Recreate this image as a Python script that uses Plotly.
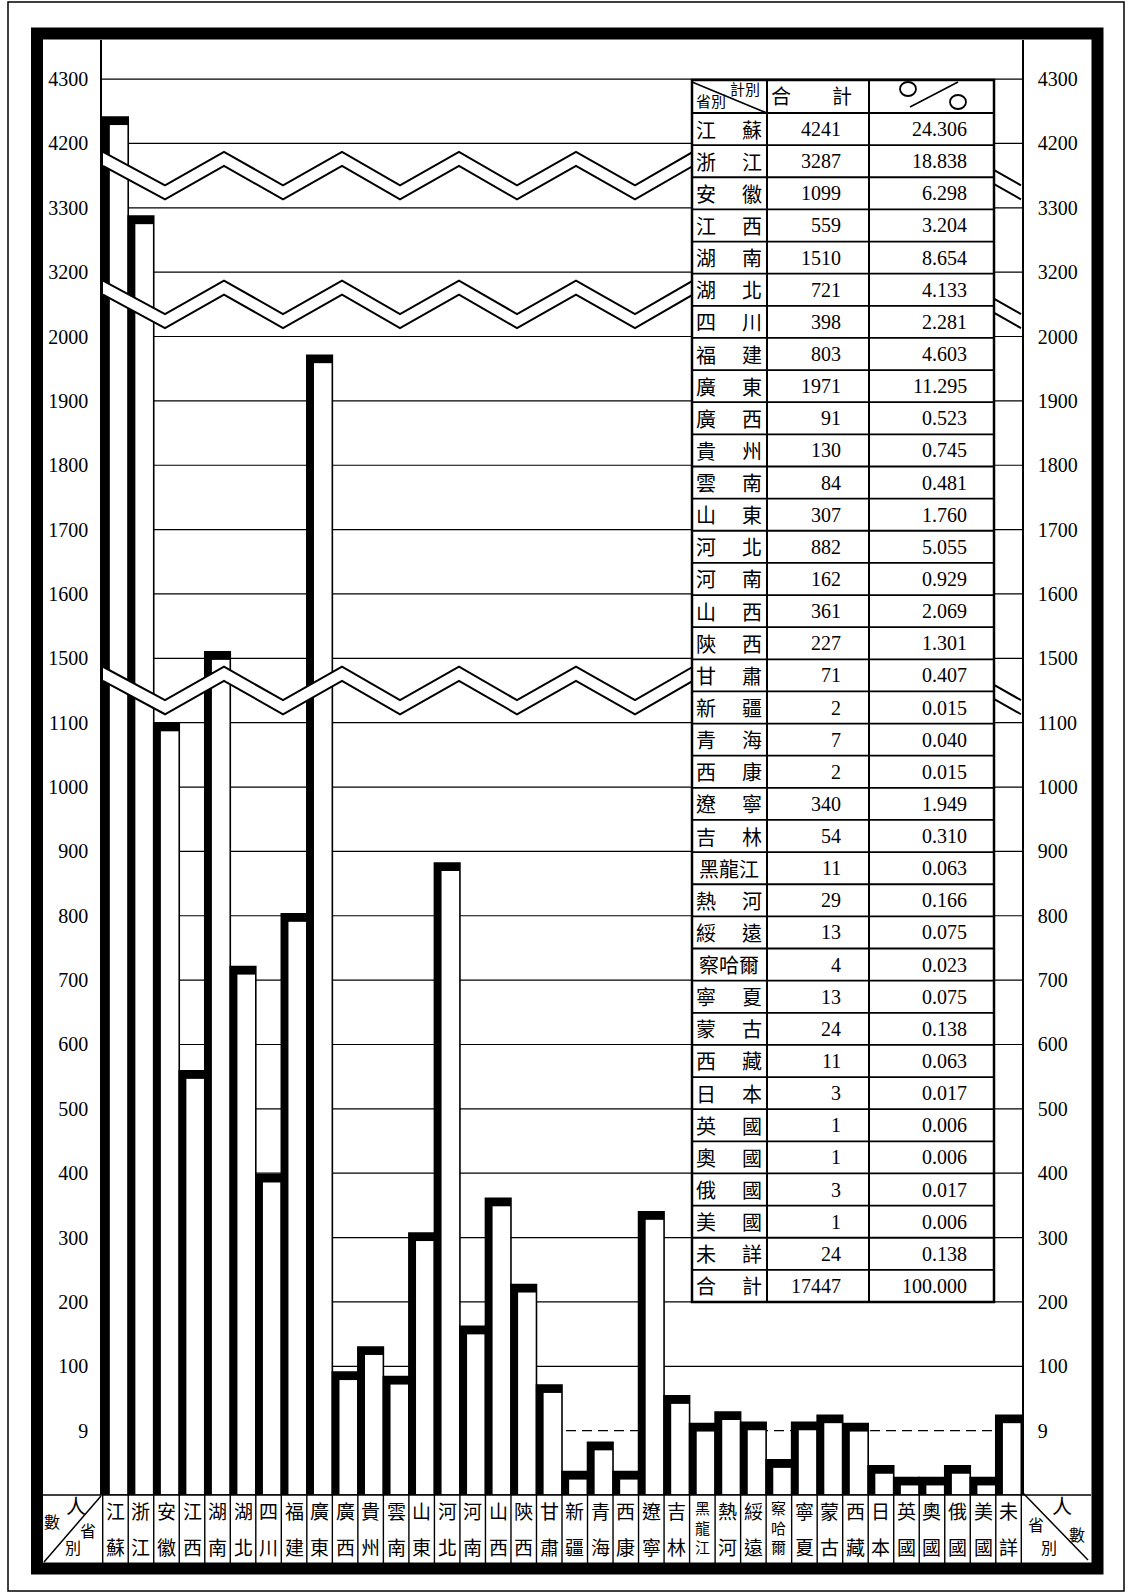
import plotly.graph_objects as go

# ---------------- data ----------------
provinces = ["江蘇", "浙江", "安徽", "江西", "湖南", "湖北", "四川", "福建", "廣東",
             "廣西", "貴州", "雲南", "山東", "河北", "河南", "山西", "陝西", "甘肅",
             "新疆", "青海", "西康", "遼寧", "吉林", "黑龍江", "熱河", "綏遠", "察哈爾",
             "寧夏", "蒙古", "西藏", "日本", "英國", "奧國", "俄國", "美國", "未詳"]
counts = [4241, 3287, 1099, 559, 1510, 721, 398, 803, 1971,
          91, 130, 84, 307, 882, 162, 361, 227, 71,
          2, 7, 2, 340, 54, 11, 29, 13, 4,
          13, 24, 11, 3, 1, 1, 3, 1, 24]
percents = ["24.306", "18.838", "6.298", "3.204", "8.654", "4.133", "2.281", "4.603", "11.295",
            "0.523", "0.745", "0.481", "1.760", "5.055", "0.929", "2.069", "1.301", "0.407",
            "0.015", "0.040", "0.015", "1.949", "0.310", "0.063", "0.166", "0.075", "0.023",
            "0.075", "0.138", "0.063", "0.017", "0.006", "0.006", "0.017", "0.006", "0.138"]
total_label = "合計"
total_count = "17447"
total_percent = "100.000"
tick_values = [9, 100, 200, 300, 400, 500, 600, 700, 800, 900, 1000, 1100,
               1500, 1600, 1700, 1800, 1900, 2000, 3200, 3300, 4200, 4300]
breaks = [(3300, 4200), (2000, 3200), (1100, 1500)]

# ---------------- geometry helpers ----------------
FW, FH = 1129, 1593
PL, PR, PT, PB = 102, 1022, 40, 1495
UNIT = 64.36
YMAX = (PB - PT) / UNIT

def px_x(p):
    return (p - PL) / (PR - PL)

def px_y(p):
    return (PB - p) / (PB - PT)

def disp(v):
    """broken-axis scale: value -> display units (one grid step = 1)"""
    if v <= 9:
        return (v + 2) / 11
    if v <= 1100:
        return 1 + v / 100
    if v <= 2000:
        return 13 + (v - 1500) / 100
    if v <= 3300:
        return 19 + (v - 3200) / 100
    return 21 + (v - 4200) / 100

D = [disp(v) for v in counts]
TOP = 8 / UNIT          # thickness of the black cap, display units

SERIF = "Liberation Serif, DejaVu Serif, serif"
CJK = "Noto Sans CJK TC, Noto Sans CJK JP, sans-serif"

fig = go.Figure()
# white body of every bar
fig.add_trace(go.Bar(x=provinces, y=D, width=1, marker=dict(color="white",
                     line=dict(color="black", width=1.6)), hoverinfo="skip"))
# thick black left side
fig.add_trace(go.Bar(x=provinces, y=D, width=0.28, offset=-0.5, yaxis="y2",
                     marker=dict(color="black", line=dict(width=0)), hoverinfo="skip"))
# thick black cap
fig.add_trace(go.Bar(x=provinces, y=[TOP] * len(D), base=[d - TOP for d in D], width=1,
                     offset=-0.5, yaxis="y2",
                     marker=dict(color="black", line=dict(width=0)), hoverinfo="skip"))

shapes = []
# grid lines
for v in tick_values:
    shapes.append(dict(type="line", xref="paper", yref="y", x0=0, x1=1, y0=disp(v), y1=disp(v),
                       line=dict(color="black", width=1.2, dash="10px,6px" if v == 9 else "solid"),
                       layer="below"))

# zig-zag breaks
zig = [(103, 1), (165, 0), (224, 1), (283, 0), (342, 1), (400, 0), (459, 1), (517, 0),
       (576, 1), (635, 0), (693, 1), (962, 1), (1021, 0)]
for lo, hi in breaks:
    c = (disp(lo) + disp(hi)) / 2
    up = [(px_x(x), c + 0.369 if p else c - 0.151) for x, p in zig]
    dn = [(px_x(x), c + 0.151 if p else c - 0.369) for x, p in zig]
    poly = "M " + " L ".join(f"{x},{y}" for x, y in up + dn[::-1]) + " Z"
    shapes.append(dict(type="path", xref="paper", yref="y", path=poly,
                       fillcolor="white", line=dict(width=0), layer="above"))
    for pts in (up, dn):
        path = "M " + " L ".join(f"{x},{y}" for x, y in pts)
        shapes.append(dict(type="path", xref="paper", yref="y", path=path,
                           line=dict(color="black", width=2), layer="above"))

def pline(x0, y0, x1, y1, w=1.5):
    shapes.append(dict(type="line", xref="paper", yref="paper", x0=px_x(x0), x1=px_x(x1),
                       y0=px_y(y0), y1=px_y(y1), line=dict(color="black", width=w), layer="above"))

# ---------------- table ----------------
TL, TC1, TC2, TR = 692, 767, 869, 994
TT, THB, TB = 80, 113, 1302
nrows = len(provinces) + 1
RH = (TB - THB) / nrows
shapes.append(dict(type="rect", xref="paper", yref="paper", x0=px_x(TL), x1=px_x(TR),
                   y0=px_y(TT), y1=px_y(TB), fillcolor="white",
                   line=dict(color="black", width=2.5), layer="above"))
pline(TC1, TT, TC1, TB, 2)
pline(TC2, TT, TC2, TB, 2)
pline(TL, THB, TR, THB, 2)
for k in range(1, nrows):
    yy = THB + k * RH
    pline(TL, yy, TR, yy, 1.8)
pline(TL, TT + 2, TC1, THB, 1.6)
pline(910, 107, 958, 82, 1.6)
for cx, cy in [(908, 89), (958, 102)]:
    shapes.append(dict(type="circle", xref="paper", yref="paper", x0=px_x(cx - 8), x1=px_x(cx + 8),
                       y0=px_y(cy - 7), y1=px_y(cy + 7), line=dict(color="black", width=1.8),
                       layer="above"))

# ---------------- label row, corner cells, frames ----------------
pline(43, PB, 1091, PB, 1.6)
for i in range(len(provinces) + 1):
    shapes.append(dict(type="line", xref="x", yref="paper", x0=i - 0.5, x1=i - 0.5,
                       y0=0, y1=px_y(1563), line=dict(color="black", width=1.4), layer="above"))
pline(44, 1562, 101, 1496, 1.5)
pline(1023, 1493, 1088, 1560, 1.5)
shapes.append(dict(type="rect", xref="paper", yref="paper", x0=px_x(37), x1=px_x(1097.5),
                   y0=px_y(33.5), y1=px_y(1568.5), line=dict(color="black", width=12),
                   layer="above"))
shapes.append(dict(type="rect", xref="paper", yref="paper", x0=px_x(8), x1=px_x(1124),
                   y0=px_y(2), y1=px_y(1591), line=dict(color="black", width=1.5),
                   layer="above"))

annotations = []

def txt(x, y, s, size=20, font=CJK, anchor="center"):
    annotations.append(dict(xref="paper", yref="paper", x=px_x(x), y=px_y(y), text=s,
                            showarrow=False, xanchor=anchor, yanchor="middle",
                            font=dict(family=font, size=size, color="black")))

# category labels in the bottom row, placed on the x axis
for name in provinces:
    if len(name) == 2:
        for ch, yy in zip(name, [1510, 1546]):
            annotations.append(dict(xref="x", yref="paper", x=name, y=px_y(yy), text=ch,
                                    showarrow=False, xanchor="center", yanchor="middle",
                                    font=dict(family=CJK, size=19, color="black")))
    else:
        annotations.append(dict(xref="x", yref="paper", x=name, y=px_y(1527),
                                text="<br>".join(name), showarrow=False,
                                xanchor="center", yanchor="middle",
                                font=dict(family=CJK, size=15, color="black")))

# header
txt(745, 89, "計別", 15)
txt(711, 101, "省別", 15)
txt(781, 96, "合", 20)
txt(842, 96, "計", 20)

rows_names = provinces + [total_label]
rows_counts = [str(c) for c in counts] + [total_count]
rows_pct = percents + [total_percent]
for k, (nm, cn, pc) in enumerate(zip(rows_names, rows_counts, rows_pct)):
    cy = THB + (k + 0.5) * RH
    if len(nm) == 2:
        txt(706, cy, nm[0], 20)
        txt(752, cy, nm[1], 20)
    else:
        txt(729, cy, nm, 20)
    txt(843, cy, cn, 20, SERIF, "right")
    txt(969, cy, pc, 20, SERIF, "right")

# corner cells
txt(76, 1505, "人", 20)
txt(52, 1521, "數", 16)
txt(88, 1530, "省", 16)
txt(73, 1547, "別", 16)
txt(1062, 1505, "人", 20)
txt(1077, 1534, "數", 16)
txt(1036, 1524, "省", 16)
txt(1049, 1547, "別", 16)

tickpos = [disp(v) for v in tick_values]
ticktxt = [str(v) for v in tick_values]
yax = dict(range=[0, YMAX], tickmode="array", tickvals=tickpos, ticktext=ticktxt,
           showgrid=False, zeroline=False, showline=True, linecolor="black", linewidth=1.5,
           ticks="", tickfont=dict(family=SERIF, size=20, color="black"), fixedrange=True)

fig.update_layout(
    width=FW, height=FH, margin=dict(l=PL, r=FW - PR, t=PT, b=FH - PB),
    paper_bgcolor="white", plot_bgcolor="white", barmode="overlay", showlegend=False,
    xaxis=dict(type="category", showticklabels=False, showgrid=False, showline=False,
               ticks="", fixedrange=True),
    yaxis=dict(**yax, side="left", ticklabelstandoff=8),
    yaxis2=dict(**yax, side="right", overlaying="y", ticklabelstandoff=10),
    shapes=shapes, annotations=annotations,
)

fig.write_html("out.html", config={"displayModeBar": False},
               post_script="document.body.style.margin='0px';")
